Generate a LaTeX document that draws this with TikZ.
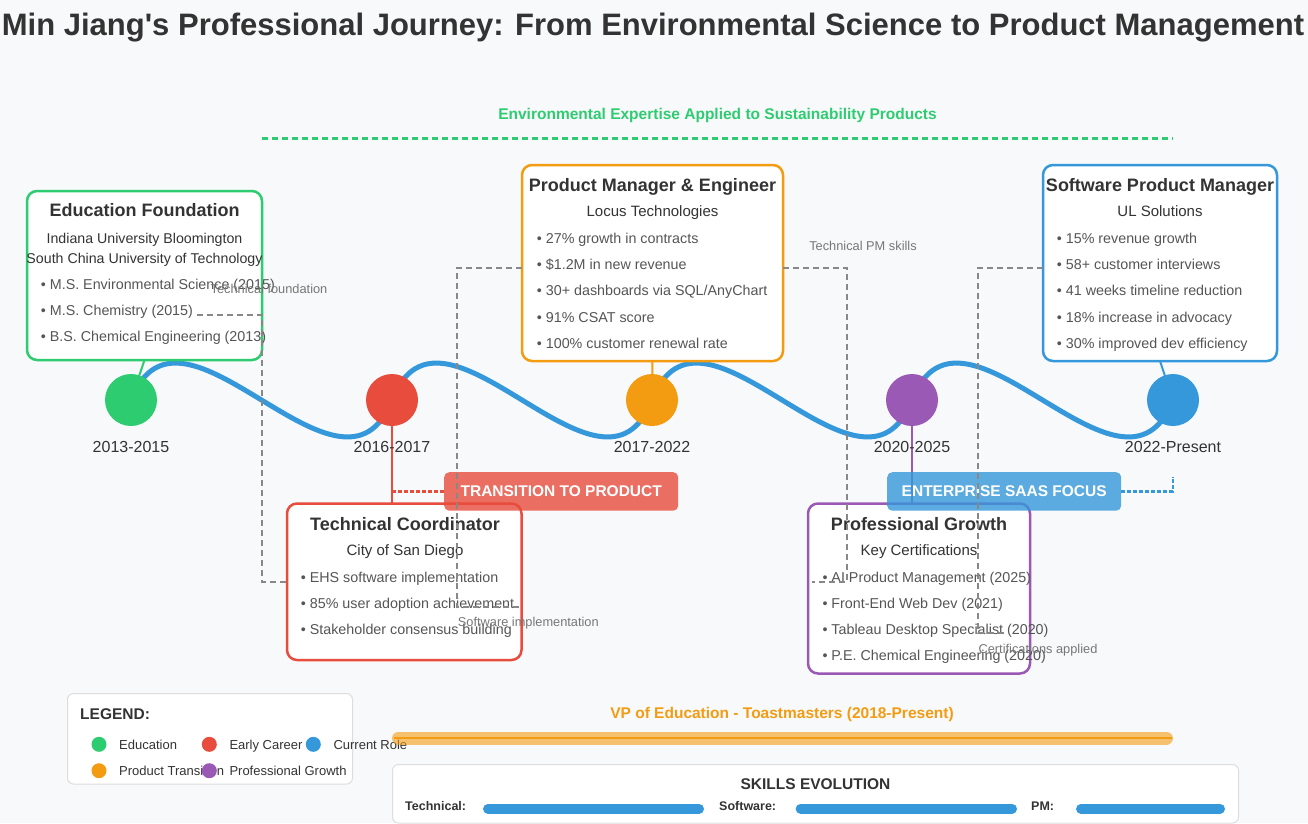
\documentclass[tikz,border=0pt]{standalone}
\usepackage{fontspec}
\setmainfont{Liberation Sans}
\usetikzlibrary{calc}
\newcommand{\myfs}[1]{\fontsize{#1}{#1}\selectfont}
\definecolor{bg}{HTML}{F8F9FA}
\definecolor{ctext}{HTML}{333333}
\definecolor{cbody}{HTML}{555555}
\definecolor{cgreen}{HTML}{2ECC71}
\definecolor{cred}{HTML}{E74C3C}
\definecolor{corange}{HTML}{F39C12}
\definecolor{cpurple}{HTML}{9B59B6}
\definecolor{cblue}{HTML}{3498DB}
\definecolor{cgrayline}{HTML}{888888}
\definecolor{cgraytext}{HTML}{777777}
\definecolor{cborder}{HTML}{DDDDDD}
\tikzset{
 card/.style={draw=#1, fill=white, line width=2.5, rounded corners=10, anchor=north west, inner sep=0, outer sep=0},
 ctitle/.style={font=\bfseries\myfs{18}, text=ctext, anchor=base, inner sep=0},
 csub/.style={font=\myfs{15}, text=ctext, anchor=base, inner sep=0},
 csmall/.style={font=\myfs{14.2}, text=ctext, anchor=base, inner sep=0},
 cbullet/.style={font=\myfs{14.3}, text=cbody, anchor=base west, inner sep=0},
 dot/.style={circle, fill=#1, minimum size=52, inner sep=0},
 datelbl/.style={font=\myfs{16}, text=ctext, anchor=base, inner sep=0},
 wave/.style={draw=cblue, line width=5},
 link/.style={draw=#1, line width=2},
 badge/.style={fill=#1, fill opacity=0.8, text opacity=1, rounded corners=5, minimum width=234, minimum height=38.5, anchor=north west, font=\bfseries\myfs{15.5}, text=white, inner sep=0},
 gline/.style={draw=cgrayline, line width=1.5, dash pattern=on 6 off 4},
 glabel/.style={font=\myfs{12.8}, text=cgraytext, anchor=base, inner sep=0},
 dotline/.style={draw=#1, line width=2.5, dash pattern=on 4 off 2},
 legdot/.style={circle, fill=#1, minimum size=15, inner sep=0},
 legtext/.style={font=\myfs{13}, text=ctext, anchor=base west, inner sep=0},
 skillbar/.style={draw=cblue, line width=10, line cap=round},
 skilllbl/.style={font=\bfseries\myfs{12.5}, text=ctext, anchor=base west, inner sep=0},
 panel/.style={draw=cborder, fill=white, line width=1, rounded corners=6, anchor=north west, inner sep=0},
}
\begin{document}
\begin{tikzpicture}[x=1pt,y=-1pt]
\path[use as bounding box, fill=bg] (0,0) rectangle (1308,823);

% title and top theme
\node[font=\bfseries\myfs{31}, text=ctext, anchor=base, inner sep=0] (title) at (653,35) {Min Jiang\textquotesingle s Professional Journey: From Environmental Science to Product Management};
\node[font=\bfseries\myfs{15.5}, text=cgreen, anchor=base, inner sep=0] (theme) at (717.5,119.3) {Environmental Expertise Applied to Sustainability Products};
\coordinate (thA) at (262,138.5);
\coordinate (thB) at (1173,138.5);
\draw[draw=cgreen, line width=2.2, dash pattern=on 6 off 4] (thA) -- (thB);

% timeline points
\coordinate (p1) at (131,400);
\coordinate (p2) at (392,400);
\coordinate (p3) at (652,400);
\coordinate (p4) at (912,400);
\coordinate (p5) at (1173,400);
\draw[wave] (p1) .. controls +(50,-128) and +(-50,128) .. (p2)
               .. controls +(50,-128) and +(-50,128) .. (p3)
               .. controls +(50,-128) and +(-50,128) .. (p4)
               .. controls +(50,-128) and +(-50,128) .. (p5);

% cards
\node[card=cgreen, minimum width=235, minimum height=169] (edu) at (27,191) {};
\node[ctitle] (eduT) at (144.5,216.7) {Education Foundation};
\node[csmall] (eduS1) at (144.5,243.3) {Indiana University Bloomington};
\node[csmall] (eduS2) at (144.5,263.3) {South China University of Technology};
\node[cbullet] (eduB1) at (40.7,289.3) {• M.S. Environmental Science (2015)};
\node[cbullet] (eduB2) at (40.7,315) {• M.S. Chemistry (2015)};
\node[cbullet] (eduB3) at (40.7,341) {• B.S. Chemical Engineering (2013)};

\node[card=corange, minimum width=261, minimum height=196] (loc) at (522,165) {};
\node[ctitle] (locT) at (652.5,191.7) {Product Manager \& Engineer};
\node[csub] (locS) at (652.5,216.7) {Locus Technologies};
\node[cbullet] (locB1) at (536.7,243.3) {• 27\% growth in contracts};
\node[cbullet] (locB2) at (536.7,269.3) {• \$1.2M in new revenue};
\node[cbullet] (locB3) at (536.7,295) {• 30+ dashboards via SQL/AnyChart};
\node[cbullet] (locB4) at (536.7,322.3) {• 91\% CSAT score};
\node[cbullet] (locB5) at (536.7,348.3) {• 100\% customer renewal rate};

\node[card=cblue, minimum width=234, minimum height=196] (ul) at (1043,165) {};
\node[ctitle] (ulT) at (1160,191.7) {Software Product Manager};
\node[csub] (ulS) at (1160,216.7) {UL Solutions};
\node[cbullet] (ulB1) at (1056.7,243.3) {• 15\% revenue growth};
\node[cbullet] (ulB2) at (1056.7,269.3) {• 58+ customer interviews};
\node[cbullet] (ulB3) at (1056.7,295) {• 41 weeks timeline reduction};
\node[cbullet] (ulB4) at (1056.7,322.3) {• 18\% increase in advocacy};
\node[cbullet] (ulB5) at (1056.7,348.3) {• 30\% improved dev efficiency};

\node[card=cred, minimum width=234.5, minimum height=156.5] (sd) at (287,503.5) {};
\node[ctitle] (sdT) at (405,530) {Technical Coordinator};
\node[csub] (sdS) at (405,555.7) {City of San Diego};
\node[cbullet] (sdB1) at (300.7,582.3) {• EHS software implementation};
\node[cbullet] (sdB2) at (300.7,608.3) {• 85\% user adoption achievement};
\node[cbullet] (sdB3) at (300.7,634) {• Stakeholder consensus building};

\node[card=cpurple, minimum width=222, minimum height=170] (pg) at (808,503.5) {};
\node[ctitle] (pgT) at (919,530) {Professional Growth};
\node[csub] (pgS) at (919,555.7) {Key Certifications};
\node[cbullet] (pgB1) at (822.3,582.3) {• AI Product Management (2025)};
\node[cbullet] (pgB2) at (822.3,608.3) {• Front-End Web Dev (2021)};
\node[cbullet] (pgB3) at (822.3,634) {• Tableau Desktop Specialist (2020)};
\node[cbullet] (pgB4) at (822.3,660) {• P.E. Chemical Engineering (2020)};

% links from cards to points
\draw[link=cgreen] (p1) -- (edu.south);
\draw[link=corange] (p3) -- (loc.south);
\draw[link=cblue] (p5) -- (ul.south);
\draw[link=cred] (p2) -- (p2 |- sd.north);
\draw[link=cpurple] (p4) -- (p4 |- pg.north);

% circles and dates
\node[dot=cgreen] (c1) at (p1) {};
\node[dot=cred] (c2) at (p2) {};
\node[dot=corange] (c3) at (p3) {};
\node[dot=cpurple] (c4) at (p4) {};
\node[dot=cblue] (c5) at (p5) {};
\node[datelbl] (d1) at (131,452.3) {2013-2015};
\node[datelbl] (d2) at (392,452.3) {2016-2017};
\node[datelbl] (d3) at (652,452.3) {2017-2022};
\node[datelbl] (d4) at (912,452.3) {2020-2025};
\node[datelbl] (d5) at (1173,452.3) {2022-Present};

% badges
\node[badge=cred] (tp) at (444,472) {TRANSITION TO PRODUCT};
\node[badge=cblue] (es) at (887,472) {ENTERPRISE SAAS FOCUS};
\draw[dotline=cred] (p2 |- tp.west) -- (tp.west);
\coordinate (esEnd) at (1173,477);
\draw[dotline=cblue] (es.east) -| (esEnd);

% gray dashed relations
\coordinate (g1a) at (197,315);   \coordinate (g1b) at (287,582);
\coordinate (g2a) at (522,268);   \coordinate (g2b) at (520,607);
\coordinate (g3a) at (783,268);   \coordinate (g3b) at (812,582);
\coordinate (g4a) at (1043,268);  \coordinate (g4b) at (1008,633);
\draw[gline] (g1a) -- ++(65,0) |- (g1b);
\draw[gline] (g2a) -- ++(-65,0) |- (g2b);
\draw[gline] (g3a) -- ++(64,0) |- (g3b);
\draw[gline] (g4a) -- ++(-65,0) |- (g4b);
\node[glabel] (l1) at (269,293.3) {Technical foundation};
\node[glabel] (l2) at (528.3,626.7) {Software implementation};
\node[glabel] (l3) at (863,250) {Technical PM skills};
\node[glabel] (l4) at (1038,653.3) {Certifications applied};

% legend
\node[panel, minimum width=285, minimum height=90.5] (legend) at (67,693) {};
\node[font=\bfseries\myfs{15.5}, text=ctext, anchor=base west, inner sep=0] (legT) at (80,719) {LEGEND:};
\node[legdot=cgreen] (lg1) at (99,744.3) {};
\node[legtext] (lt1) at (119,749) {Education};
\node[legdot=cred] (lg2) at (209.3,744.3) {};
\node[legtext] (lt2) at (229.3,749) {Early Career};
\node[legdot=cblue] (lg3) at (313.3,744.3) {};
\node[legtext] (lt3) at (333.3,749) {Current Role};
\node[legdot=corange] (lg4) at (99,770.7) {};
\node[legtext] (lt4) at (119,775) {Product Transition};
\node[legdot=cpurple] (lg5) at (209.3,770.7) {};
\node[legtext] (lt5) at (229.3,775) {Professional Growth};

% toastmasters
\node[font=\bfseries\myfs{15.5}, text=corange, anchor=base, inner sep=0] (vp) at (782,718.3) {VP of Education - Toastmasters (2018-Present)};
\coordinate (vpA) at (398.5,738);
\coordinate (vpB) at (1166.5,738);
\draw[draw=corange, line width=13, line cap=round, opacity=0.6] (vpA) -- (vpB);
\draw[draw=corange, line width=2.5] ($(vpA)+(-5,0)$) -- ($(vpB)+(5,0)$);

% skills
\node[panel, minimum width=846, minimum height=58.5] (skills) at (392,764) {};
\node[font=\bfseries\myfs{15.5}, text=ctext, anchor=base, inner sep=0] (skT) at (815.5,789.3) {SKILLS EVOLUTION};
\node[skilllbl] (sk1) at (405,810) {Technical:};
\node[skilllbl] (sk2) at (719,810) {Software:};
\node[skilllbl] (sk3) at (1031,810) {PM:};
\coordinate (b1a) at (488,808.7); \coordinate (b1b) at (699,808.7);
\coordinate (b2a) at (800.6,808.7); \coordinate (b2b) at (1012,808.7);
\coordinate (b3a) at (1081,808.7); \coordinate (b3b) at (1220,808.7);
\draw[skillbar] (b1a) -- (b1b);
\draw[skillbar] (b2a) -- (b2b);
\draw[skillbar] (b3a) -- (b3b);
\end{tikzpicture}
\end{document}
